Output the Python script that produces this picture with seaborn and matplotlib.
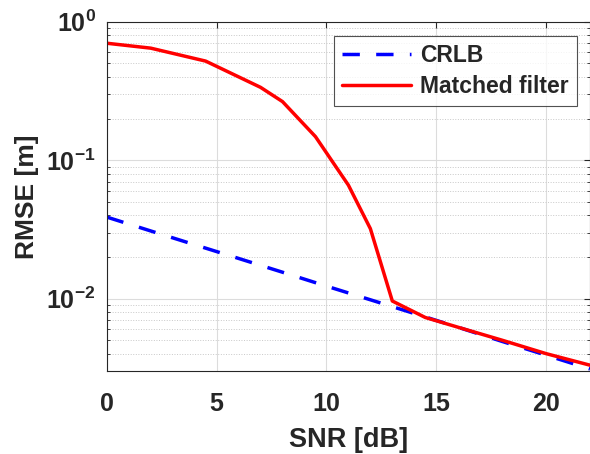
import matplotlib
matplotlib.use("Agg")
import matplotlib.pyplot as plt
import seaborn as sns
import pandas as pd
import numpy as np
from matplotlib.ticker import LogLocator, NullFormatter

snr_crlb = [0, 2, 4, 6, 8, 10, 12, 14, 16, 18, 20, 22]
rmse_crlb = [0.0388, 0.0308, 0.0245, 0.0195, 0.0155, 0.0123, 0.0098, 0.0078, 0.0062, 0.0049, 0.0039, 0.0031]

snr_mf = [0, 2, 4.5, 7, 8, 9.5, 11, 12, 13, 14.5, 16, 18, 20, 22]
rmse_mf = [0.70, 0.645, 0.52, 0.336, 0.265, 0.148, 0.066, 0.032, 0.0096, 0.0073, 0.0062, 0.0050, 0.0040, 0.0033]

x_ticks = [0, 5, 10, 15, 20]

sns.set_style("white")
plt.rcParams['font.family'] = ['Liberation Sans', 'DejaVu Sans']
plt.rcParams['font.weight'] = 'bold'
plt.rcParams['mathtext.default'] = 'bf'

df_crlb = pd.DataFrame({"SNR": snr_crlb, "RMSE": rmse_crlb})
df_mf = pd.DataFrame({"SNR": snr_mf, "RMSE": rmse_mf})

fig = plt.figure(figsize=(5.9, 4.54), dpi=100)
ax = fig.add_axes([0.181, 0.183, 0.819, 0.769])

sns.lineplot(data=df_crlb, x="SNR", y="RMSE", ax=ax, color="#0000FF", lw=2.5,
             label="CRLB", linestyle=(0, (5.0, 4.7)))
sns.lineplot(data=df_mf, x="SNR", y="RMSE", ax=ax, color="#FF0000", lw=2.5,
             label="Matched filter")

ax.set_yscale("log")
ax.set_xlim(0, 22)
ax.set_ylim(0.003, 1)
ax.set_xticks(x_ticks)
ax.yaxis.set_major_locator(LogLocator(base=10, numticks=10))
ax.yaxis.set_minor_locator(LogLocator(base=10, subs=np.arange(2, 10), numticks=20))
ax.yaxis.set_minor_formatter(NullFormatter())

ax.grid(True, which="major", color="#dcdcdc", lw=0.8)
ax.grid(True, which="minor", axis="y", color="#c8c8c8", lw=0.7, linestyle=":")
ax.set_axisbelow(True)

for s in ax.spines.values():
    s.set_color("#262626")
    s.set_linewidth(0.8)
ax.tick_params(axis="both", which="major", direction="in", length=4, width=0.8,
               color="#262626", labelsize=18, labelcolor="#262626",
               top=True, right=True)
ax.tick_params(axis="x", which="major", pad=15)
ax.tick_params(axis="y", which="major", pad=8)
ax.tick_params(axis="y", which="minor", direction="in", length=2.5, width=0.6,
               color="#262626", right=True, left=True)
for lab in ax.get_xticklabels() + ax.get_yticklabels():
    lab.set_fontweight("bold")

ax.set_xlabel("SNR [dB]", fontsize=19.5, fontweight="bold", color="#262626", labelpad=8)
ax.set_ylabel("RMSE [m]", fontsize=19, fontweight="bold", color="#262626", labelpad=5)

leg = ax.legend(loc="upper right", bbox_to_anchor=(0.973, 0.960), fontsize=16.5,
                frameon=True, fancybox=False, edgecolor="#262626",
                handlelength=3.0, borderpad=0.35, labelspacing=0.35,
                handletextpad=0.4, borderaxespad=0)
leg.get_frame().set_linewidth(0.8)
for t in leg.get_texts():
    t.set_fontweight("bold")

fig.savefig("out.png", dpi=100)
